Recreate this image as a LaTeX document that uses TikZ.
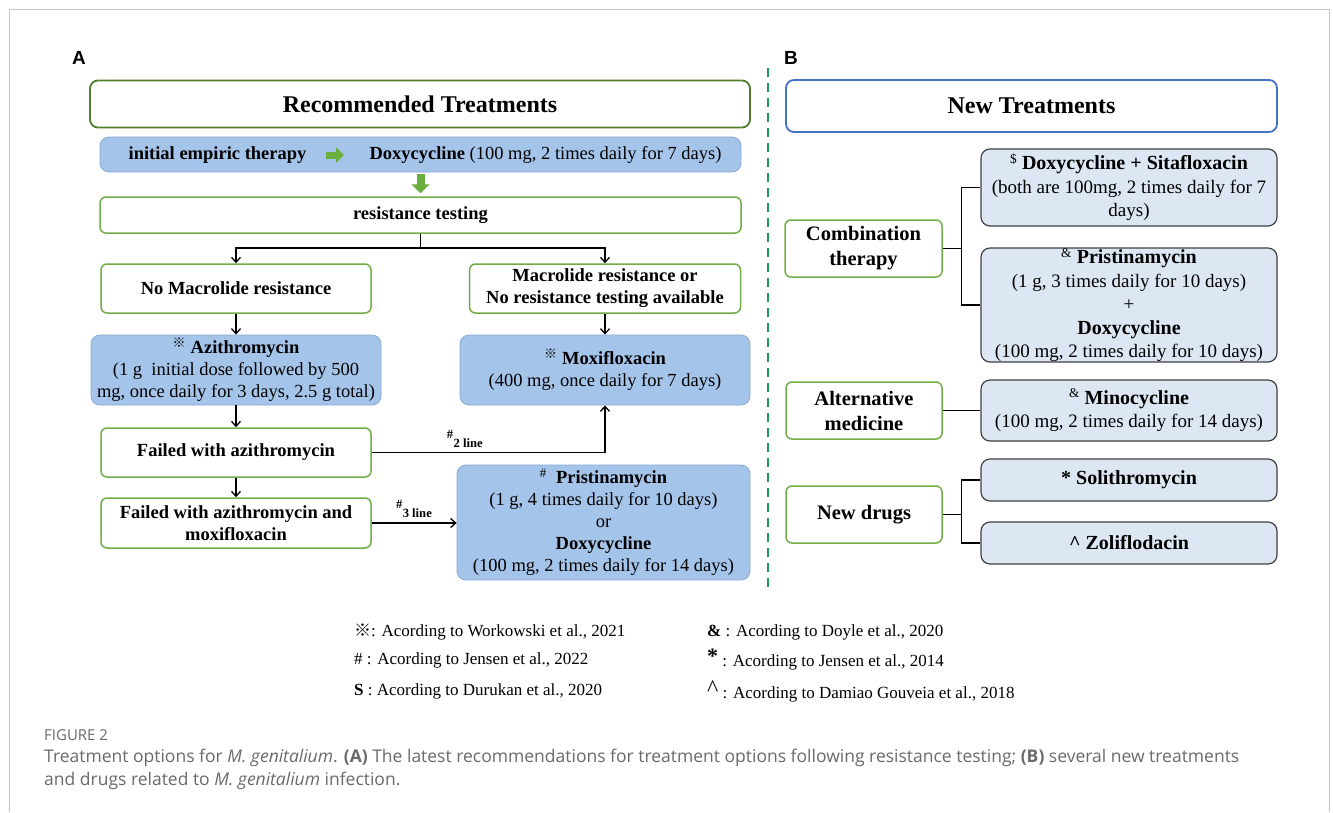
\documentclass[tikz,border=0pt]{standalone}
\usepackage{fontspec}
\setmainfont{Liberation Serif}
\newfontfamily\capfont{Open Sans}
\newfontfamily\labfont{Liberation Sans}
\newfontfamily\markfont{Noto Sans CJK SC}
\usetikzlibrary{arrows.meta}

\definecolor{boxgreen}{HTML}{70AD47}
\definecolor{darkgreen}{HTML}{4E7D2E}
\definecolor{arrowgreen}{HTML}{6AAE3E}
\definecolor{dashgreen}{HTML}{1D9A57}
\definecolor{bluefill}{HTML}{A5C4EA}
\definecolor{blueedge}{HTML}{86A9D6}
\definecolor{lightfill}{HTML}{DDE7F3}
\definecolor{darkedge}{HTML}{404040}
\definecolor{titleblue}{HTML}{4472C4}
\definecolor{framegray}{HTML}{C4C4C4}
\definecolor{capgray}{HTML}{6A6A6A}

\newcommand{\refmark}{{\markfont\textsuperscript{※}}}

\begin{document}
\begin{tikzpicture}[x=1pt,y=-1pt,
    gbox/.style={draw=boxgreen, line width=1.5pt, rounded corners=6pt, fill=white,
      align=center, inner sep=0pt, font=\bfseries\fontsize{18.5}{22}\selectfont},
    bbox/.style={draw=blueedge, line width=0.8pt, rounded corners=9pt, fill=bluefill,
      align=center, inner sep=0pt, font=\fontsize{18.5}{22}\selectfont},
    lbox/.style={draw=darkedge, line width=1.2pt, rounded corners=9pt, fill=lightfill,
      align=center, inner sep=0pt, font=\fontsize{19}{23.5}\selectfont},
    tbox/.style={line width=1.8pt, rounded corners=8pt, fill=white, inner sep=0pt,
      font=\bfseries\fontsize{24}{28}\selectfont},
    sidebox/.style={gbox, font=\bfseries\fontsize{20.5}{25}\selectfont},
    conn/.style={line width=1.3pt},
    arr/.style={conn, -{Straight Barb[length=5pt,width=9pt]}},
    fatarr/.style={arrowgreen, line width=7pt, -{Triangle[length=8pt,width=15pt]}},
    lgd/.style={anchor=west, inner sep=0pt, font=\fontsize{17}{20}\selectfont},
    capt/.style={anchor=west, inner sep=0pt, text=capgray, font=\capfont\fontsize{17.5}{21}\selectfont}
  ]
  \path[use as bounding box, fill=white] (0,0) rectangle (1333,812);
  \draw[framegray, line width=1pt] (9,812) -- (9,9) -- (1329,9) -- (1329,812);

  % panel A
  \node[font=\labfont\bfseries\fontsize{19}{19}\selectfont] (labA) at (79,58) {A};
  \node[tbox, draw=darkgreen, minimum width=660, minimum height=47] (rec) at (420,104) {Recommended Treatments};
  \node[bbox, minimum width=641, minimum height=35] (empiric) at (420.5,154.5) {};
  \node[font=\bfseries\fontsize{18.5}{22}\selectfont] (eL) at (217.5,155) {initial empiric therapy};
  \node[anchor=west, font=\fontsize{18.5}{22}\selectfont] (eR) at (366,155) {\textbf{Doxycycline} (100 mg, 2 times daily for 7 days)};
  \coordinate (ea1) at (326,155);
  \coordinate (ea2) at (344,155);
  \draw[fatarr] (ea1) -- (ea2);
  \node[gbox, minimum width=641, minimum height=36] (test) at (420.5,215) {resistance testing};
  \draw[fatarr, line width=8pt, -{Triangle[length=9pt,width=18pt]}, shorten <=2pt, shorten >=3pt]
    (empiric.south) -- (test.north);
  \node[gbox, minimum width=270, minimum height=49] (nomac) at (236,288.5) {No Macrolide resistance};
  \node[gbox, minimum width=271, minimum height=49] (mac) at (605,288.5) {Macrolide resistance or\\No resistance testing available};
  \node[bbox, minimum width=290, minimum height=70] (azi) at (236,370)
    {\refmark\ \textbf{Azithromycin}\\ (1 g~ initial dose followed by 500\\mg, once daily for 3 days, 2.5 g total)};
  \node[bbox, minimum width=290, minimum height=70] (moxi) at (605,370)
    {\refmark\ \textbf{Moxifloxacin}\\(400 mg, once daily for 7 days)};
  \node[gbox, minimum width=270, minimum height=49] (failA) at (236,452.5) {Failed with azithromycin};
  \node[gbox, minimum width=270, minimum height=50] (failB) at (236,523) {Failed with azithromycin and\\moxifloxacin};
  \node[bbox, minimum width=293, minimum height=115] (prist) at (603.5,522.5)
    {\textsuperscript{\#}\ \ \textbf{Pristinamycin}\\(1 g, 4 times daily for 10 days)\\or\\\textbf{Doxycycline}\\(100 mg, 2 times daily for 14 days)};

  \coordinate (split) at (420.5,248);
  \draw[conn] (test.south) -- (split);
  \draw[arr] (split) -| (nomac.north);
  \draw[arr] (split) -| (mac.north);
  \draw[arr] (nomac.south) -- (azi.north);
  \draw[arr] (mac.south) -- (moxi.north);
  \draw[arr] (azi.south) -- (failA.north);
  \draw[arr] (failA.south) -- (failB.north);
  \draw[arr] (failA.east) -| (moxi.south)
    node[pos=0.2, above=1pt, font=\bfseries\fontsize{18}{18}\selectfont] {\textsuperscript{\#}\textsubscript{2 line}};
  \draw[arr] (failB.east) -- (failB.east -| prist.west)
    node[midway, above=1pt, font=\bfseries\fontsize{18}{18}\selectfont] {\textsuperscript{\#}\textsubscript{3 line}};

  \draw[dashgreen, line width=2pt, dash pattern=on 9pt off 6pt] (768,68) -- (768,590);

  % panel B
  \node[font=\labfont\bfseries\fontsize{19}{19}\selectfont] (labB) at (791,58) {B};
  \node[tbox, draw=titleblue, minimum width=491, minimum height=52] (newt) at (1031.5,106) {New Treatments};
  \node[sidebox, minimum width=157, minimum height=57] (combo) at (863.5,248.5) {Combination\\therapy};
  \node[lbox, minimum width=296, minimum height=77] (dsita) at (1129,187.5)
    {\textsuperscript{\$}\ \textbf{\fontsize{20}{23.5}\selectfont Doxycycline + Sitafloxacin}\\(both are 100mg, 2 times daily for 7\\days)};
  \node[lbox, minimum width=296, minimum height=114] (pridoxy) at (1129,305)
    {\textsuperscript{\&}\ \textbf{\fontsize{20}{23.5}\selectfont Pristinamycin}\\(1 g, 3 times daily for 10 days)\\+\\\textbf{\fontsize{20}{23.5}\selectfont Doxycycline}\\(100 mg, 2 times daily for 10 days)};
  \node[sidebox, minimum width=156, minimum height=57] (altmed) at (864,410.5) {Alternative\\medicine};
  \node[lbox, minimum width=296, minimum height=61] (mino) at (1129,410.5)
    {\textsuperscript{\&}\ \textbf{\fontsize{20}{23.5}\selectfont Minocycline}\\(100 mg, 2 times daily for 14 days)};
  \node[sidebox, minimum width=156, minimum height=57] (newdrug) at (864,514.5) {New drugs};
  \node[lbox, minimum width=296, minimum height=42] (soli) at (1129,480)
    {\textbf{\fontsize{20}{23.5}\selectfont * Solithromycin}};
  \node[lbox, minimum width=296, minimum height=42] (zoli) at (1129,543)
    {\textbf{\fontsize{20}{23.5}\selectfont \textasciicircum\ Zoliflodacin}};

  \draw[conn] (combo.east) -- ++(19,0) coordinate (cj);
  \draw[conn] (dsita.west) -| (cj) |- (pridoxy.west);
  \draw[conn] (altmed.east) -- (mino.west);
  \draw[conn] (newdrug.east) -- ++(19,0) coordinate (nj);
  \draw[conn] (soli.west) -| (nj) |- (zoli.west);

  % legend
  \node[lgd] (lg1) at (354,632) {{\markfont ※}: Acording to Workowski et al., 2021};
  \node[lgd] (lg2) at (354,660) {\# : Acording to Jensen et al., 2022};
  \node[lgd] (lg3) at (354,691) {\textbf{S} : Acording to Durukan et al., 2020};
  \node[lgd] (lg4) at (707,632) {\textbf{\&} : Acording to Doyle et al., 2020};
  \node[lgd] (lg5) at (707,660) {\raisebox{3pt}{\bfseries\fontsize{22}{22}\selectfont *} : Acording to Jensen et al., 2014};
  \node[lgd] (lg6) at (707,691) {\raisebox{2pt}{\fontsize{24}{24}\selectfont\textasciicircum} : Acording to Damiao Gouveia et al., 2018};

  % caption
  \node[capt, font=\capfont\fontsize{15}{18}\selectfont] (fig) at (44,735) {FIGURE 2};
  \node[capt] (cap1) at (44,758) {Treatment options for \textit{M. genitalium}. \textbf{(A)} The latest recommendations for treatment options following resistance testing; \textbf{(B)} several new treatments};
  \node[capt] (cap2) at (44,781) {and drugs related to \textit{M. genitalium} infection.};
\end{tikzpicture}
\end{document}
